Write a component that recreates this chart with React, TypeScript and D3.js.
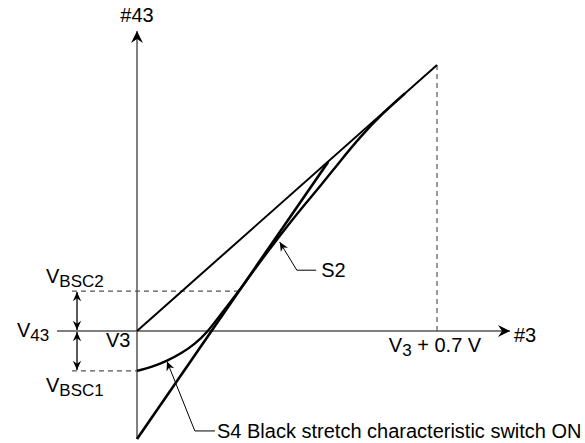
import React from 'react'
import * as d3 from 'd3'

// coordinates in volts, relative to V3 (x) and V43 (y)
const refLine: [number, number][] = [[0, 0], [0.7, 0.7]]
const steepLine: [number, number][] = [[0, -0.284], [0.446, 0.445]]
const s4Curve: [number, number][] = [
  [0, -0.105], [0.035, -0.095], [0.07, -0.079], [0.105, -0.058], [0.135, -0.034],
  [0.163, -0.005], [0.194, 0.042], [0.238, 0.105], [0.287, 0.182], [0.334, 0.252],
  [0.38, 0.318], [0.427, 0.38], [0.474, 0.447], [0.52, 0.51], [0.574, 0.574], [0.625, 0.625]
]
const vbsc2 = 0.105
const vbsc1 = -0.105
const xMax = 0.7

const s2Leader: [number, number][] = [[0.333, 0.234], [0.373, 0.16], [0.418, 0.16]]
const s4Leader: [number, number][] = [[0.07, -0.08], [0.135, -0.263], [0.182, -0.263]]

const W = 585
const H = 443

export default function App() {
  const x = d3.scaleLinear().domain([0, 0.7]).range([137, 437])
  const y = d3.scaleLinear().domain([0, 0.7]).range([331, 65])
  const line = d3.line<[number, number]>().x(d => x(d[0])).y(d => y(d[1]))
  const smooth = d3.line<[number, number]>().x(d => x(d[0])).y(d => y(d[1])).curve(d3.curveBasis)
  const font = 'Liberation Sans, Arial, sans-serif'
  const axisCol = '#555'
  const sub = 17

  return (
    <svg width={W} height={H} style={{ position: 'absolute', left: 0, top: 0, background: '#fff' }}
      fontFamily={font} fontSize={20}>
      <defs>
        <marker id="ah" viewBox="-13 -7 14 14" markerWidth={14} markerHeight={14} refX={0} refY={0}
          orient="auto-start-reverse" markerUnits="userSpaceOnUse">
          <path d="M0,0L-12,-6L-8,0L-12,6Z" fill="#000" />
        </marker>
        <marker id="ahs" viewBox="-12 -6 13 12" markerWidth={11} markerHeight={10} refX={0} refY={0}
          orient="auto-start-reverse" markerUnits="userSpaceOnUse">
          <path d="M0,0L-11,-5L-7.5,0L-11,5Z" fill="#000" />
        </marker>
      </defs>

      {/* axes */}
      <line x1={x(0)} y1={439} x2={x(0)} y2={31} stroke={axisCol} strokeWidth={1.5} markerEnd="url(#ah)" />
      <line x1={57} y1={y(0)} x2={510} y2={y(0)} stroke={axisCol} strokeWidth={1.5} markerEnd="url(#ah)" />

      {/* dashed guides */}
      <line x1={72} y1={y(vbsc2)} x2={x(0.238)} y2={y(vbsc2)} stroke={axisCol} strokeWidth={1.2} strokeDasharray="5,4" />
      <line x1={72} y1={y(vbsc1)} x2={x(0)} y2={y(vbsc1)} stroke={axisCol} strokeWidth={1.2} strokeDasharray="5,4" />
      <line x1={x(xMax)} y1={y(xMax)} x2={x(xMax)} y2={y(0)} stroke={axisCol} strokeWidth={1.2} strokeDasharray="5,4" />

      {/* double arrows */}
      <line x1={77} y1={y(vbsc2) + 1} x2={77} y2={y(0) - 1} stroke="#000" strokeWidth={1.3}
        markerStart="url(#ahs)" markerEnd="url(#ahs)" />
      <line x1={77} y1={y(0) + 1} x2={77} y2={y(vbsc1) - 1} stroke="#000" strokeWidth={1.3}
        markerStart="url(#ahs)" markerEnd="url(#ahs)" />

      {/* characteristics */}
      <path d={line(refLine) || ''} fill="none" stroke="#000" strokeWidth={2} />
      <path d={line(steepLine) || ''} fill="none" stroke="#000" strokeWidth={2.6} />
      <path d={smooth(s4Curve) || ''} fill="none" stroke="#000" strokeWidth={2.4} />

      {/* leaders */}
      <path d={line(s2Leader.slice().reverse()) || ''} fill="none" stroke="#000" strokeWidth={1} markerEnd="url(#ahs)" />
      <path d={line(s4Leader.slice().reverse()) || ''} fill="none" stroke="#000" strokeWidth={1} markerEnd="url(#ahs)" />

      {/* labels */}
      <text x={x(0)} y={22} textAnchor="middle">#43</text>
      <text x={514} y={342}>#3</text>
      <text x={x(xMax) - 2} y={352} textAnchor="middle">V<tspan fontSize={sub} dy={4}>3</tspan><tspan dy={-4}> + 0.7 V</tspan></text>
      <text x={17} y={337}>V<tspan fontSize={sub} dy={4}>43</tspan></text>
      <text x={106} y={347}>V3</text>
      <text x={46} y={283}>V<tspan fontSize={sub} dy={4}>BSC2</tspan></text>
      <text x={46} y={392}>V<tspan fontSize={sub} dy={4}>BSC1</tspan></text>
      <text x={x(s2Leader[2][0]) + 5} y={y(s2Leader[2][1]) + 7}>S2</text>
      <text x={x(s4Leader[2][0]) + 2} y={y(s4Leader[2][1]) + 7}>S4 Black stretch characteristic switch ON</text>
    </svg>
  )
}
